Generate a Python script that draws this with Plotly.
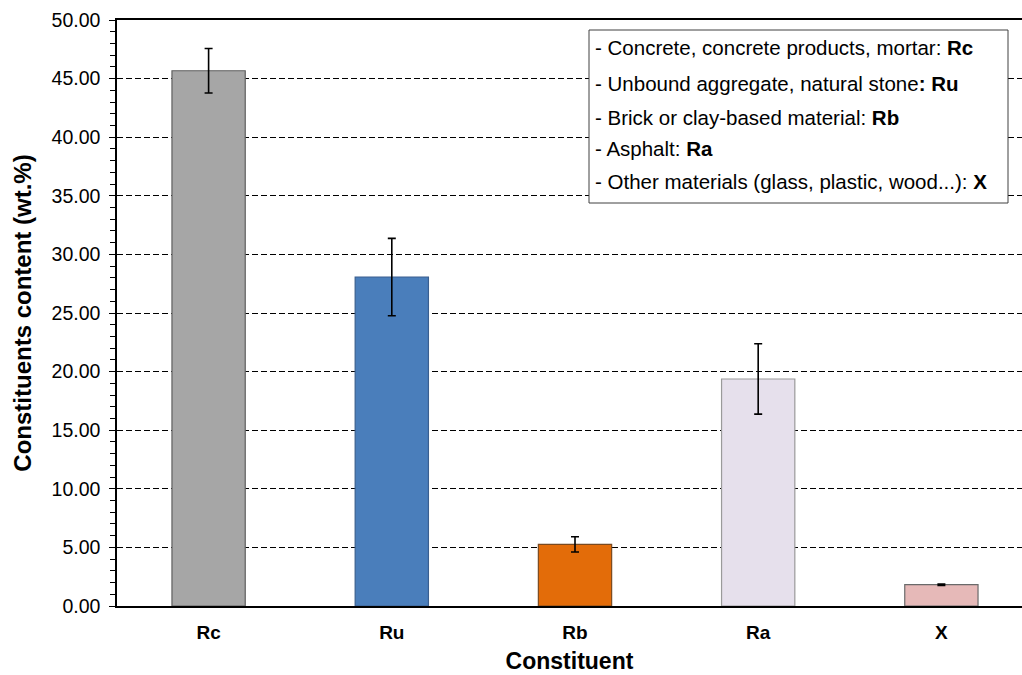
import plotly.graph_objects as go

# Constituent classes and their mean content with standard deviation
constituents = ["Rc", "Ru", "Rb", "Ra", "X"]
content = [45.67, 28.07, 5.26, 19.37, 1.82]
content_sd = [1.9, 3.3, 0.65, 3.0, 0.06]
bar_colors = ["#a6a6a6", "#4a7ebb", "#e36c09", "#e6e0ec", "#e6b9b8"]
outline_colors = ["#5f5f5f", "#3a5f8f", "#7a4a20", "#9a9a9a", "#6a6a6a"]

legend_lines = [
    "- Concrete, concrete products, mortar: <b>Rc</b>",
    "- Unbound aggregate, natural stone<b>:</b> <b>Ru</b>",
    "- Brick or clay-based material: <b>Rb</b>",
    "- Asphalt: <b>Ra</b>",
    "- Other materials (glass, plastic, wood...): <b>X</b>",
]

FONT = "Liberation Sans, Arial, Helvetica, sans-serif"

fig = go.Figure()
fig.add_trace(go.Bar(
    x=constituents,
    y=content,
    width=0.4,
    marker=dict(color=bar_colors, line=dict(color=outline_colors, width=1.2)),
    error_y=dict(type="data", array=content_sd, visible=True,
                 color="black", thickness=1.6, width=4),
    showlegend=False,
))

W, H = 1022, 675
left, top, bottom = 117, 20, 606

fig.update_layout(
    width=W, height=H,
    margin=dict(l=left, r=0, t=top, b=H - bottom, autoexpand=False),
    paper_bgcolor="white", plot_bgcolor="white",
    font=dict(family=FONT, color="black"),
    bargap=0.6,
    xaxis=dict(
        range=[-0.5, 4.44],
        showline=True, linecolor="black", linewidth=1.5, mirror=True,
        ticks="", showgrid=False,
        tickfont=dict(size=19, family=FONT, weight="bold"),
        ticklabelstandoff=8,
        title=dict(text="<b>Constituent</b>", font=dict(size=23), standoff=11),
    ),
    yaxis=dict(
        range=[0, 50], dtick=5, tickformat=".2f",
        showline=True, linecolor="black", linewidth=1.5,
        ticks="outside", ticklen=6, tickwidth=1.2, tickcolor="black",
        minor=dict(dtick=1, ticks="outside", ticklen=5, tickwidth=1, tickcolor="black", showgrid=False),
        showgrid=True, gridcolor="black", gridwidth=1.4, griddash="6px,3px",
        zeroline=False,
        tickfont=dict(size=19.5),
        ticklabelstandoff=5,
        title=dict(text="<b>Constituents content (wt.%)</b>", font=dict(size=24), standoff=13),
    ),
)

# Key box describing the constituent codes
box_x0, box_x1, box_y0, box_y1 = 589, 1008, 30, 203
fig.add_shape(type="rect", xref="paper", yref="paper",
              x0=(box_x0 - left) / (W - left), x1=(box_x1 - left) / (W - left),
              y0=(bottom - box_y1) / (bottom - top), y1=(bottom - box_y0) / (bottom - top),
              line=dict(color="#404040", width=1), fillcolor="white", layer="above")
line_y = [47, 83, 117, 148, 181]
for txt, yy in zip(legend_lines, line_y):
    fig.add_annotation(xref="paper", yref="paper",
                       x=(box_x0 + 4 - left) / (W - left), y=(bottom - yy) / (bottom - top),
                       xanchor="left", yanchor="middle", showarrow=False,
                       text=txt, font=dict(size=20.5, family=FONT, color="black"))

fig.write_html("out.html")
